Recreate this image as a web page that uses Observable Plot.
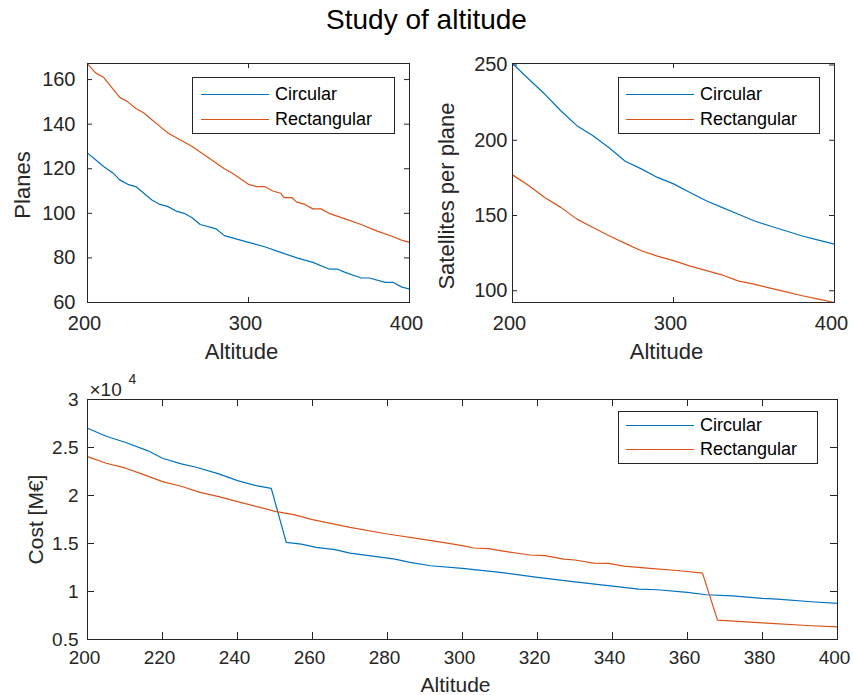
<!DOCTYPE html>
<html><head><meta charset="utf-8">
<script src="https://cdn.jsdelivr.net/npm/d3@7"></script>
<script src="https://cdn.jsdelivr.net/npm/@observablehq/plot@0.6"></script>
<style>
body{margin:0;background:#fff;font-family:"Liberation Sans",Arial,Helvetica,sans-serif;color:#262626}
#wrap{position:relative;width:853px;height:695px;overflow:hidden;background:#fff}
.title{position:absolute;left:0;top:6px;width:853px;text-align:center;font-size:28px;line-height:28px;color:#000}
.panel{position:absolute}
.legend{position:absolute;border:1px solid #262626;background:#fff;box-sizing:border-box}
.sw{position:absolute;height:0;border-top:1.3px solid}
.lt{position:absolute;font-size:18px;line-height:18px;white-space:nowrap;color:#000}
</style></head><body><div id="wrap"><div class="title">Study of altitude</div></div>
<script>
// ---------- data ----------
const seriesNames = ["Circular", "Rectangular"];
const seriesColors = ["#0072BD", "#D95319"];

const planesCircAlt = [200,205,210,216,220,225,230,235,240,245,250,255,260,265,270,280,285,290,300,310,320,330,340,350,355,360,370,375,385,390,395,400];
const planesCircVal = [127,124,121,118,115,113,112,109,106,104,103,101,100,98,95,93,90,89,87,85,82.5,80,78,75,75,73.5,71,71,69,69,67,66];
const planesRectAlt = [200,205,210,220,225,230,235,240,245,250,255,265,275,285,290,300,305,310,315,320,322,327,330,335,340,345,350,360,370,380,390,395,400];
const planesRectVal = [167,163,161,152,150,147,145,142,139,136,134,130,125,120,118,113,112,112,110,109,107,107,105,104,102,102,100,97.5,95,92,89.5,88,87];

const satsAlt = [200,210,220,230,240,250,260,270,280,290,300,310,320,330,340,350,360,370,380,390,400];
const satsCircVal = [251,240.7,230.7,219.6,209.7,203,195,186,181,175.3,171,165.4,160,155.4,151,146.5,143,139.7,136.4,133.6,131];
const satsRectVal = [177,170,162,155.4,147.6,142,136.6,131.5,126.6,123,120,116.5,113.5,110.6,106.6,104.4,101.8,99.3,96.7,94.5,92.2];

const costCircAlt = [200,205,210,216,220,225,229,235,240,245,249,253,257,261,266,270,275,282,286,291.5,300,310,320,330,340,347,352,360,365,372,380,384,393,400];
const costCircVal = [27000,26170,25550,24680,23880,23290,22940,22250,21550,21030,20750,15120,14940,14600,14360,14000,13730,13380,13030,12680,12400,11990,11470,11010,10560,10250,10180,9900,9660,9550,9280,9210,8930,8760];
const costRectAlt = [200,205,210,215,220,225,230,235,240,246,250,255,260,270,280,290,300,303,307,310,318,322,327,330,335,339,343,350,358,364,368,380,393,400];
const costRectVal = [24050,23360,22870,22170,21450,20960,20330,19880,19360,18770,18350,18000,17480,16680,15990,15400,14770,14530,14460,14250,13800,13730,13380,13280,12960,12930,12650,12400,12160,11920,7020,6740,6430,6320];

const topXTicks = [200, 300, 400];
const planesYTicks = [60, 80, 100, 120, 140, 160];
const satsYTicks = [100, 150, 200, 250];
const costXTicks = [200,220,240,260,280,300,320,340,360,380,400];
const costYTicks = [5000,10000,15000,20000,25000,30000];

// ---------- drawing ----------
const INK = "#262626";
const FONT = '"Liberation Sans", Arial, Helvetica, sans-serif';
const wrap = document.getElementById("wrap");

function pts(alt, val) { return alt.map((a, i) => ({alt: a, v: val[i]})); }

function panel(o) {
  const pw = o.width - o.ml - o.mr, ph = o.height - o.mt - o.mb;
  const marks = [
    Plot.tickX(o.xTicks, {x: d => d, insetTop: ph - o.tick, stroke: INK}),
    Plot.tickX(o.xTicks, {x: d => d, insetBottom: ph - o.tick, stroke: INK}),
    Plot.tickY(o.yTicks, {y: d => d, insetRight: pw - o.tick, stroke: INK}),
    Plot.tickY(o.yTicks, {y: d => d, insetLeft: pw - o.tick, stroke: INK}),
    Plot.axisX({ticks: o.xTicks, tickSize: 0, tickPadding: o.xPad, label: null, fontSize: o.fs, dx: -3, tickFormat: d => String(d)}),
    Plot.axisY({ticks: o.yTicks, tickSize: 0, tickPadding: o.yPad, label: null, fontSize: o.fs, tickFormat: o.yFormat || (d => String(d))}),
    ...o.series.map((s, i) => Plot.line(s, {x: "alt", y: "v", stroke: seriesColors[i], strokeWidth: 1.2})),
    Plot.frame({stroke: INK, strokeWidth: 1}),
    Plot.text([o.xLabel], {text: d => d, frameAnchor: "bottom", dy: o.xlDy, dx: -7, lineAnchor: "bottom", textAnchor: "middle", fontSize: o.lfs}),
    Plot.text([o.yLabel], {text: d => d, frameAnchor: "left", rotate: -90, dx: o.ylDx, dy: o.ylDy, lineAnchor: "bottom", textAnchor: "middle", fontSize: o.lfs}),
    ...(o.extra || [])
  ];
  const svg = Plot.plot({
    width: o.width, height: o.height,
    marginLeft: o.ml, marginRight: o.mr, marginTop: o.mt, marginBottom: o.mb,
    x: {domain: o.xDomain},
    y: {domain: o.yDomain},
    style: {fontFamily: FONT, color: INK, background: "transparent", overflow: "visible"},
    marks
  });
  svg.classList.add("panel");
  svg.style.left = o.left + "px";
  svg.style.top = o.top + "px";
  svg.style.maxWidth = "none";
  wrap.appendChild(svg);
}

function legend(o) {
  const box = document.createElement("div");
  box.className = "legend";
  Object.assign(box.style, {left: o.left + "px", top: o.top + "px", width: o.w + "px", height: o.h + "px"});
  seriesNames.forEach((name, i) => {
    const sw = document.createElement("div");
    sw.className = "sw";
    Object.assign(sw.style, {left: o.swX + "px", width: "68px", top: (o.rows[i] - 1) + "px", borderTopColor: seriesColors[i]});
    const t = document.createElement("div");
    t.className = "lt";
    t.textContent = name;
    Object.assign(t.style, {left: o.txX + "px", top: (o.rows[i] - 10) + "px"});
    box.appendChild(sw); box.appendChild(t);
  });
  wrap.appendChild(box);
}

panel({
  left: 0, top: 0, width: 430, height: 370, ml: 87, mr: 21, mt: 63, mb: 68,
  xDomain: [200, 400], yDomain: [60, 167.2], xTicks: topXTicks, yTicks: planesYTicks,
  tick: 5, fs: 20, lfs: 22, xPad: 13, yPad: 12, xlDy: 56, ylDx: -58, ylDy: 2,
  xLabel: "Altitude", yLabel: "Planes",
  series: [pts(planesCircAlt, planesCircVal), pts(planesRectAlt, planesRectVal)]
});

panel({
  left: 430, top: 0, width: 423, height: 370, ml: 82, mr: 19, mt: 63, mb: 68,
  xDomain: [200, 400], yDomain: [92.2, 251], xTicks: topXTicks, yTicks: satsYTicks,
  tick: 5, fs: 20, lfs: 22, xPad: 13, yPad: 5, xlDy: 56, ylDx: -59, ylDy: 13,
  xLabel: "Altitude", yLabel: "Satellites per plane",
  series: [pts(satsAlt, satsCircVal), pts(satsAlt, satsRectVal)]
});

panel({
  left: 0, top: 370, width: 853, height: 325, ml: 87, mr: 16, mt: 29, mb: 56,
  xDomain: [200, 400], yDomain: [5000, 30000], xTicks: costXTicks, yTicks: costYTicks,
  yFormat: d => String(d / 10000),
  tick: 7, fs: 19, lfs: 21, xPad: 11, yPad: 9, xlDy: 52, ylDx: -45, ylDy: 0,
  xLabel: "Altitude", yLabel: "Cost [M€]",
  series: [pts(costCircAlt, costCircVal), pts(costRectAlt, costRectVal)],
  extra: [
    Plot.text(["×10"], {text: d => d, frameAnchor: "top-left", dx: 2, dy: -4, lineAnchor: "bottom", textAnchor: "start", fontSize: 19}),
    Plot.text(["4"], {text: d => d, frameAnchor: "top-left", dx: 41, dy: -16, lineAnchor: "bottom", textAnchor: "start", fontSize: 14})
  ]
});

legend({left: 192, top: 77, w: 203, h: 57, swX: 8, txX: 82, rows: [16.5, 42]});
legend({left: 618, top: 77, w: 202, h: 57, swX: 7, txX: 81, rows: [16.5, 42]});
legend({left: 618, top: 411, w: 200, h: 53, swX: 7, txX: 81, rows: [14.3, 38.3]});
</script></body></html>
